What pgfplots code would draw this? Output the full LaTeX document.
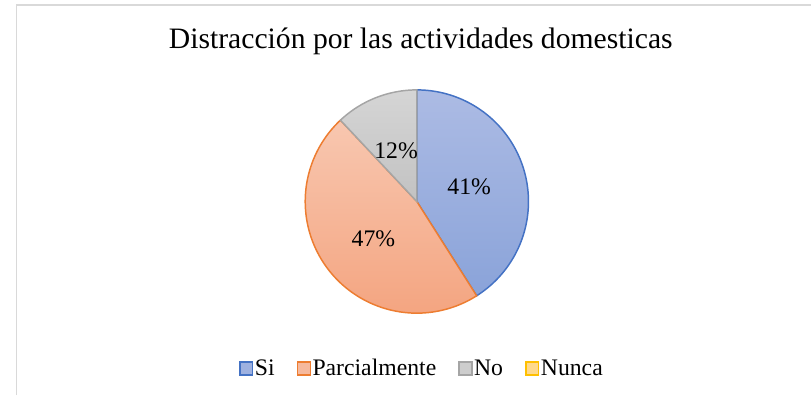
\documentclass[border=0pt]{standalone}
\usepackage{pgfplots}
\usepackage{pgfplotstable}
\pgfplotsset{compat=1.18}
\usepackage{fontspec}
\setmainfont{Liberation Serif}
\definecolor{siB}{HTML}{4472C4}
\definecolor{siT}{HTML}{ACBBE4}
\definecolor{siBot}{HTML}{8AA3D9}
\definecolor{paB}{HTML}{ED7D31}
\definecolor{paT}{HTML}{F8C7B0}
\definecolor{paBot}{HTML}{F4A581}
\definecolor{noB}{HTML}{A5A5A5}
\definecolor{noT}{HTML}{D5D5D5}
\definecolor{noBot}{HTML}{C2C2C2}
\definecolor{nuB}{HTML}{FFC000}
\definecolor{nuF}{HTML}{FFD98C}
\definecolor{frame}{HTML}{D9D9D9}

\pgfplotstableread{
label pct
Si 41
Parcialmente 47
No 12
Nunca 0
}\piedata

\begin{document}
\pgfplotstablegetelem{0}{pct}\of\piedata \let\pA\pgfplotsretval
\pgfplotstablegetelem{1}{pct}\of\piedata \let\pB\pgfplotsretval
\pgfplotstablegetelem{2}{pct}\of\piedata \let\pC\pgfplotsretval
\pgfmathsetmacro\aZ{90}
\pgfmathsetmacro\aA{\aZ-3.6*\pA}
\pgfmathsetmacro\aB{\aA-3.6*\pB}
\pgfmathsetmacro\aC{\aB-3.6*\pC}
\begin{tikzpicture}
\begin{axis}[
  at={(0,0)}, anchor=south west,
  scale only axis, width=811bp, height=400bp,
  xmin=0, xmax=811, ymin=0, ymax=400,
  hide axis, clip=false,
  legend columns=4,
  legend style={at={(axis cs:417,27)}, anchor=center, draw=none, fill=none,
    font=\fontsize{24bp}{26bp}\selectfont,
    nodes={inner sep=1.5bp},
    /tikz/every even column/.append style={column sep=21bp}},
]
\addplot[forget plot, draw=siB, line width=1.5bp, top color=siT, bottom color=siBot,
  domain=\aA:\aZ, samples=120, variable=\t]
  ({412+113*cos(\t)},{196+113*sin(\t)}) -- (axis cs:412,196) -- cycle;
\addplot[forget plot, draw=paB, line width=1.5bp, top color=paT, bottom color=paBot,
  domain=\aB:\aA, samples=140, variable=\t]
  ({412+113*cos(\t)},{196+113*sin(\t)}) -- (axis cs:412,196) -- cycle;
\addplot[forget plot, draw=noB, line width=1.5bp, top color=noT, bottom color=noBot,
  domain=\aC:\aB, samples=60, variable=\t]
  ({412+113*cos(\t)},{196+113*sin(\t)}) -- (axis cs:412,196) -- cycle;

\node[font=\fontsize{24bp}{26bp}\selectfont] at (axis cs:465,211) {\pA\%};
\node[font=\fontsize{24bp}{26bp}\selectfont] at (axis cs:368,158) {\pB\%};
\node[font=\fontsize{24bp}{26bp}\selectfont] at (axis cs:391,247) {\pC\%};
\node[font=\fontsize{30bp}{32bp}\selectfont, anchor=base] at (axis cs:416,351) {Distracción por las actividades domesticas};

\addlegendimage{legend image code/.code={\draw[draw=siB, fill=siT!60!siBot, line width=1.3bp] (0bp,-6.5bp) rectangle (13bp,6.5bp);}}
\addlegendentry{Si}
\addlegendimage{legend image code/.code={\draw[draw=paB, fill=paT!60!paBot, line width=1.3bp] (0bp,-6.5bp) rectangle (13bp,6.5bp);}}
\addlegendentry{Parcialmente}
\addlegendimage{legend image code/.code={\draw[draw=noB, fill=noT!60!noBot, line width=1.3bp] (0bp,-6.5bp) rectangle (13bp,6.5bp);}}
\addlegendentry{No}
\addlegendimage{legend image code/.code={\draw[draw=nuB, fill=nuF, line width=1.3bp] (0bp,-6.5bp) rectangle (13bp,6.5bp);}}
\addlegendentry{Nunca}
\end{axis}
\draw[frame, line width=1.5bp] (7bp,0bp) -- (7bp,395bp) -- (811bp,395bp);
\pgfresetboundingbox
\path (0,0) rectangle (811bp,400bp);
\end{tikzpicture}
\end{document}
